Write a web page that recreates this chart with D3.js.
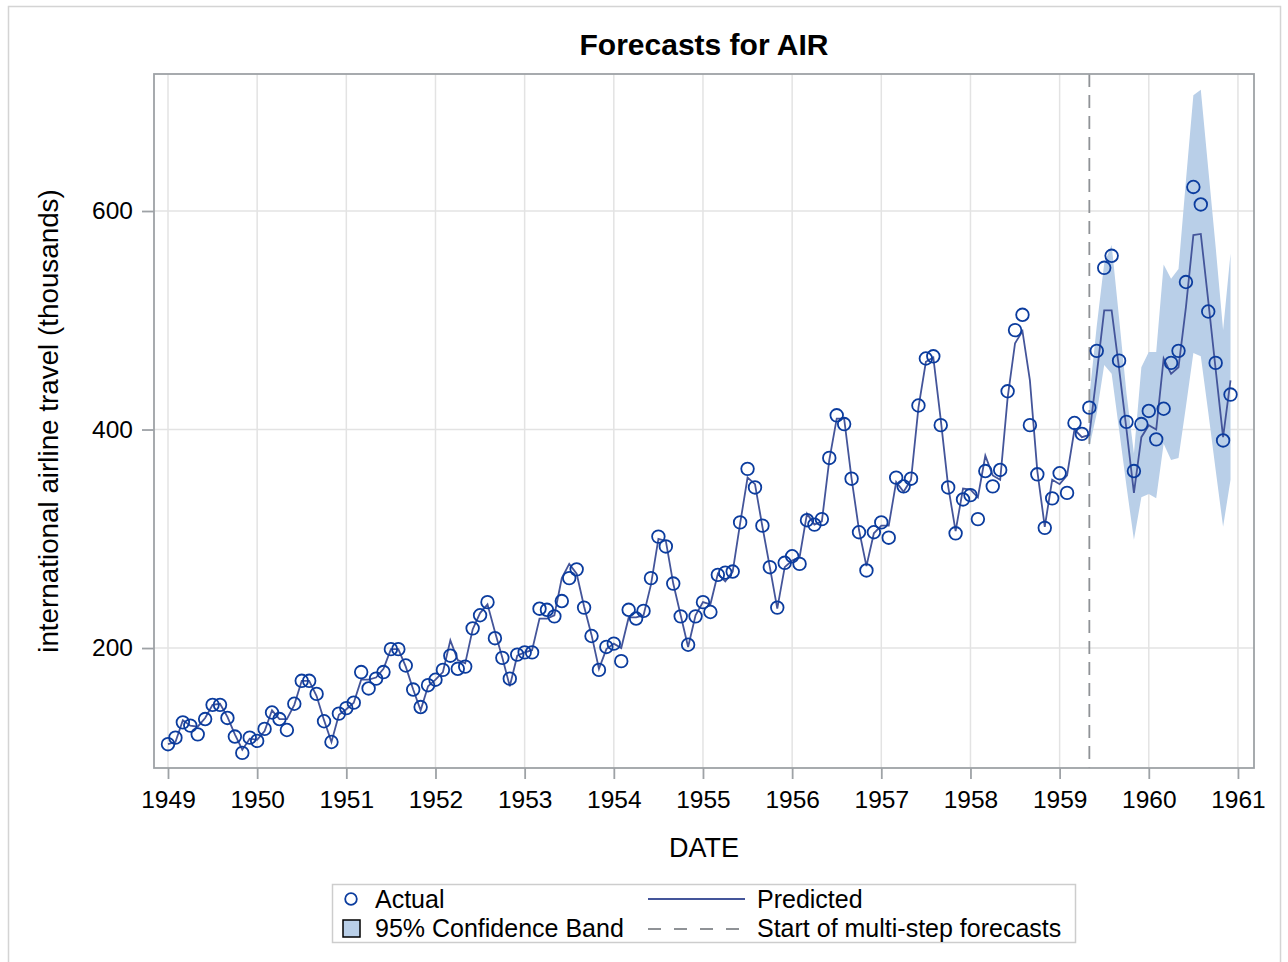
<!DOCTYPE html>
<html>
<head>
<meta charset="utf-8">
<script src="https://cdn.jsdelivr.net/npm/d3@7"></script>
<style>
  body { margin: 0; background: #fff; }
  svg { display: block; font-family: Arial, "Liberation Sans", sans-serif; }
</style>
</head>
<body>
<svg id="chart" width="1288" height="962"></svg>
<script>
// monthly series, Jan 1949 .. Dec 1960
var startYear = 1949;

var actual = [
  112, 118, 132, 129, 121, 135, 148, 148, 136, 119, 104, 118,
  115, 126, 141, 135, 125, 149, 170, 170, 158, 133, 114, 140,
  145, 150, 178, 163, 172, 178, 199, 199, 184, 162, 146, 166,
  171, 180, 193, 181, 183, 218, 230, 242, 209, 191, 172, 194,
  196, 196, 236, 235, 229, 243, 264, 272, 237, 211, 180, 201,
  204, 188, 235, 227, 234, 264, 302, 293, 259, 229, 203, 229,
  242, 233, 267, 269, 270, 315, 364, 347, 312, 274, 237, 278,
  284, 277, 317, 313, 318, 374, 413, 405, 355, 306, 271, 306,
  315, 301, 356, 348, 355, 422, 465, 467, 404, 347, 305, 336,
  340, 318, 362, 348, 363, 435, 491, 505, 404, 359, 310, 337,
  360, 342, 406, 396, 420, 472, 548, 559, 463, 407, 362, 405,
  417, 391, 419, 461, 472, 535, 622, 606, 508, 461, 390, 432
];

var predicted = [
  112, 114, 134, 129, 128, 136, 148, 149, 137, 121, 107, 117,
  116, 124, 143, 135, 135, 148, 170, 170, 156, 134, 114, 139,
  144, 150, 171, 171, 173, 181, 199, 199, 183, 162, 143, 165,
  171, 178, 207, 189, 186, 217, 232, 240, 215, 191, 165, 193,
  196, 198, 227, 227, 230, 264, 277, 268, 238, 212, 181, 199,
  204, 200, 228, 228, 230, 258, 300, 298, 259, 230, 201, 230,
  242, 240, 268, 261, 270, 314, 356, 350, 311, 274, 236, 274,
  280, 283, 323, 313, 316, 372, 410, 410, 355, 308, 275, 305,
  312, 312, 352, 343, 354, 420, 462, 466, 409, 348, 307, 346,
  345, 338, 376, 358, 354, 429, 479, 490, 445, 362, 311, 354,
  350, 358, 400, 393, 395, 451, 509, 509, 456, 400, 342, 393,
  404, 400, 465, 451, 457, 512, 578, 579, 518, 455, 393, 445
];

// 95% band, only for the multi-step part (May 1959 .. Dec 1960)
var bandStart = 124;
var bandUpper = [430, 495, 552, 569, 502, 433, 378, 457, 471, 471,
                 551, 538, 547, 628, 706, 711, 639, 567, 491, 561];
var bandLower = [384, 415, 459, 451, 400, 348, 299, 338, 341, 337,
                 387, 372, 374, 421, 470, 467, 416, 363, 311, 354];

var xTicks = [1949, 1950, 1951, 1952, 1953, 1954, 1955, 1956, 1957, 1958, 1959, 1960, 1961];
var yTicks = [200, 400, 600];

var dateOf = function(i){
  return startYear + i / 12;
};

var frame = {left: 154, right: 1254, top: 74, bottom: 768};

var svg = d3.select('#chart');

// outer border
svg.append('rect')
  .attr('x', 8.5).attr('y', 6.5)
  .attr('width', 1272).attr('height', 970)
  .attr('fill', 'none').attr('stroke', '#d4d4d4').attr('stroke-width', 1.5);

var x = d3.scaleLinear().domain([1948.843, 1961.18]).range([frame.left, frame.right]);
var y = d3.scaleLinear().domain([90.2, 725.4]).range([frame.bottom, frame.top]);

var plot = svg.append('g');

// grid
plot.selectAll('.vgrid')
  .data(xTicks)
  .enter().append('line')
  .attr('x1', function(d){ return x(d); })
  .attr('x2', function(d){ return x(d); })
  .attr('y1', frame.top).attr('y2', frame.bottom)
  .attr('stroke', '#e3e3e3').attr('stroke-width', 1.5);

plot.selectAll('.hgrid')
  .data(yTicks)
  .enter().append('line')
  .attr('y1', function(d){ return y(d); })
  .attr('y2', function(d){ return y(d); })
  .attr('x1', frame.left).attr('x2', frame.right)
  .attr('stroke', '#e3e3e3').attr('stroke-width', 1.5);

// confidence band
var bandData = bandUpper.map(function(u, j){
  return {t: dateOf(bandStart + j), hi: u, lo: bandLower[j]};
});
plot.append('path')
  .datum(bandData)
  .attr('fill', '#b9cfe8')
  .attr('d', d3.area()
    .x(function(d){ return x(d.t); })
    .y0(function(d){ return y(d.lo); })
    .y1(function(d){ return y(d.hi); }));

// start of multi-step forecasts
plot.append('line')
  .attr('x1', x(dateOf(bandStart))).attr('x2', x(dateOf(bandStart)))
  .attr('y1', frame.top).attr('y2', frame.bottom)
  .attr('stroke', '#8f9296').attr('stroke-width', 1.8)
  .attr('stroke-dasharray', '13,8');

// predicted
plot.append('path')
  .datum(predicted)
  .attr('fill', 'none')
  .attr('stroke', '#44559a')
  .attr('stroke-width', 1.8)
  .attr('d', d3.line()
    .x(function(d, i){ return x(dateOf(i)); })
    .y(function(d){ return y(d); }));

// actual
plot.selectAll('.pt')
  .data(actual)
  .enter().append('circle')
  .attr('cx', function(d, i){ return x(dateOf(i)); })
  .attr('cy', function(d){ return y(d); })
  .attr('r', 6.3)
  .attr('fill', 'none')
  .attr('stroke', '#0b3c9e')
  .attr('stroke-width', 1.8);

// frame
svg.append('rect')
  .attr('x', frame.left).attr('y', frame.top)
  .attr('width', frame.right - frame.left).attr('height', frame.bottom - frame.top)
  .attr('fill', 'none').attr('stroke', '#9ea2a6').attr('stroke-width', 1.8);

// axes
var xAxis = d3.axisBottom(x).tickValues(xTicks).tickFormat(d3.format('d'))
  .tickSize(11).tickPadding(12);
var gx = svg.append('g').attr('transform', 'translate(0,' + frame.bottom + ')').call(xAxis);
gx.select('.domain').remove();
gx.selectAll('line').attr('stroke', '#9ea2a6').attr('stroke-width', 1.8);
gx.selectAll('text').attr('font-size', 24.5).attr('fill', '#000')
  .attr('font-family', 'Arial, "Liberation Sans", sans-serif');

var yAxis = d3.axisLeft(y).tickValues(yTicks).tickFormat(d3.format('d'))
  .tickSize(12).tickPadding(9);
var gy = svg.append('g').attr('transform', 'translate(' + frame.left + ',0)').call(yAxis);
gy.select('.domain').remove();
gy.selectAll('line').attr('stroke', '#9ea2a6').attr('stroke-width', 1.8);
gy.selectAll('text').attr('font-size', 24.5).attr('fill', '#000')
  .attr('font-family', 'Arial, "Liberation Sans", sans-serif');

// titles
svg.append('text')
  .attr('x', (frame.left + frame.right) / 2).attr('y', 55)
  .attr('text-anchor', 'middle')
  .attr('font-size', 30).attr('font-weight', 'bold')
  .text('Forecasts for AIR');

svg.append('text')
  .attr('x', (frame.left + frame.right) / 2).attr('y', 857)
  .attr('text-anchor', 'middle')
  .attr('font-size', 27)
  .text('DATE');

svg.append('text')
  .attr('transform', 'translate(58,' + (frame.top + frame.bottom) / 2 + ') rotate(-90)')
  .attr('text-anchor', 'middle')
  .attr('font-size', 27.8)
  .text('international airline travel (thousands)');

// legend
var legend = svg.append('g');
legend.append('rect')
  .attr('x', 332.5).attr('y', 884.5).attr('width', 743).attr('height', 58)
  .attr('fill', 'none').attr('stroke', '#cdcdcd').attr('stroke-width', 1.5);

legend.append('circle')
  .attr('cx', 351).attr('cy', 899).attr('r', 5.8)
  .attr('fill', 'none').attr('stroke', '#0b3c9e').attr('stroke-width', 1.8);
legend.append('text').attr('x', 375).attr('y', 908).attr('font-size', 25).text('Actual');

legend.append('rect')
  .attr('x', 343).attr('y', 920).attr('width', 17).attr('height', 17)
  .attr('fill', '#b9cfe8').attr('stroke', '#000').attr('stroke-width', 1.5);
legend.append('text').attr('x', 375).attr('y', 937).attr('font-size', 25).text('95% Confidence Band');

legend.append('line')
  .attr('x1', 648).attr('x2', 745).attr('y1', 899).attr('y2', 899)
  .attr('stroke', '#44559a').attr('stroke-width', 1.8);
legend.append('text').attr('x', 757).attr('y', 908).attr('font-size', 25).text('Predicted');

legend.append('line')
  .attr('x1', 648).attr('x2', 745).attr('y1', 929).attr('y2', 929)
  .attr('stroke', '#8f9296').attr('stroke-width', 1.8)
  .attr('stroke-dasharray', '13,13');
legend.append('text').attr('x', 757).attr('y', 937).attr('font-size', 25).text('Start of multi-step forecasts');
</script>
</body>
</html>
